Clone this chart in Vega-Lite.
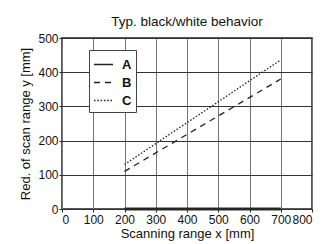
{
  "$schema": "https://vega.github.io/schema/vega-lite/v6.json",
  "width": 250,
  "height": 171,
  "autosize": "none",
  "padding": {"left": 62, "top": 38, "right": 23, "bottom": 35},
  "background": "white",
  "config": {
    "font": "Liberation Sans",
    "view": {"stroke": "#222", "strokeWidth": 1.5},
    "axis": {"labelFont": "Liberation Sans", "titleFont": "Liberation Sans", "labelFontSize": 12, "titleFontSize": 13, "titleFontWeight": "normal", "labelColor": "#111", "titleColor": "#111", "gridOpacity": 1, "gridWidth": 1, "domain": false, "tickColor": "#222", "tickSize": 3, "labelOverlap": false}
  },
  "title": {"text": "Typ. black/white behavior", "fontSize": 13.5, "fontWeight": "normal", "font": "Liberation Sans", "color": "#111", "offset": 4},
  "data": {"values": [
    {"x": 200, "y": 0, "s": "A"},
    {"x": 700, "y": 0, "s": "A"},
    {"x": 200, "y": 110, "s": "B"},
    {"x": 700, "y": 380, "s": "B"},
    {"x": 200, "y": 130, "s": "C"},
    {"x": 700, "y": 436, "s": "C"}
  ]},
  "encoding": {
    "x": {"field": "x", "type": "quantitative", "scale": {"domain": [0, 800], "nice": false}, "axis": {"values": [0,100,200,300,400,500,600,700,800], "title": "Scanning range x [mm]", "titlePadding": 2, "labelPadding": 2, "gridColor": "#777"}},
    "y": {"field": "y", "type": "quantitative", "scale": {"domain": [0, 500], "nice": false}, "axis": {"values": [0,100,200,300,400,500], "title": "Red. of scan range y [mm]", "titlePadding": 5, "labelPadding": 1, "gridColor": "#333"}}
  },
  "layer": [
    {
      "transform": [{"filter": "datum.s === 'A'"}],
      "mark": {"type": "line", "color": "#333", "strokeWidth": 3}
    },
    {
      "mark": {"type": "line", "color": "#222", "strokeWidth": 1.3},
      "encoding": {
        "strokeDash": {"field": "s", "type": "nominal", "scale": {"domain": ["A","B","C"], "range": [[1,0],[6,5],[1.5,1.8]]}, "legend": {"orient": "none", "legendX": 27, "legendY": 12, "title": null, "symbolType": "stroke", "symbolStrokeColor": "#222", "symbolStrokeWidth": 1.3, "symbolSize": 361, "labelFontWeight": "bold", "labelFontSize": 13, "labelColor": "#111", "strokeColor": "#444", "fillColor": "white", "padding": 4, "rowPadding": -2, "labelOffset": 8, "symbolOffset": 0}}
      }
    }
  ]
}
